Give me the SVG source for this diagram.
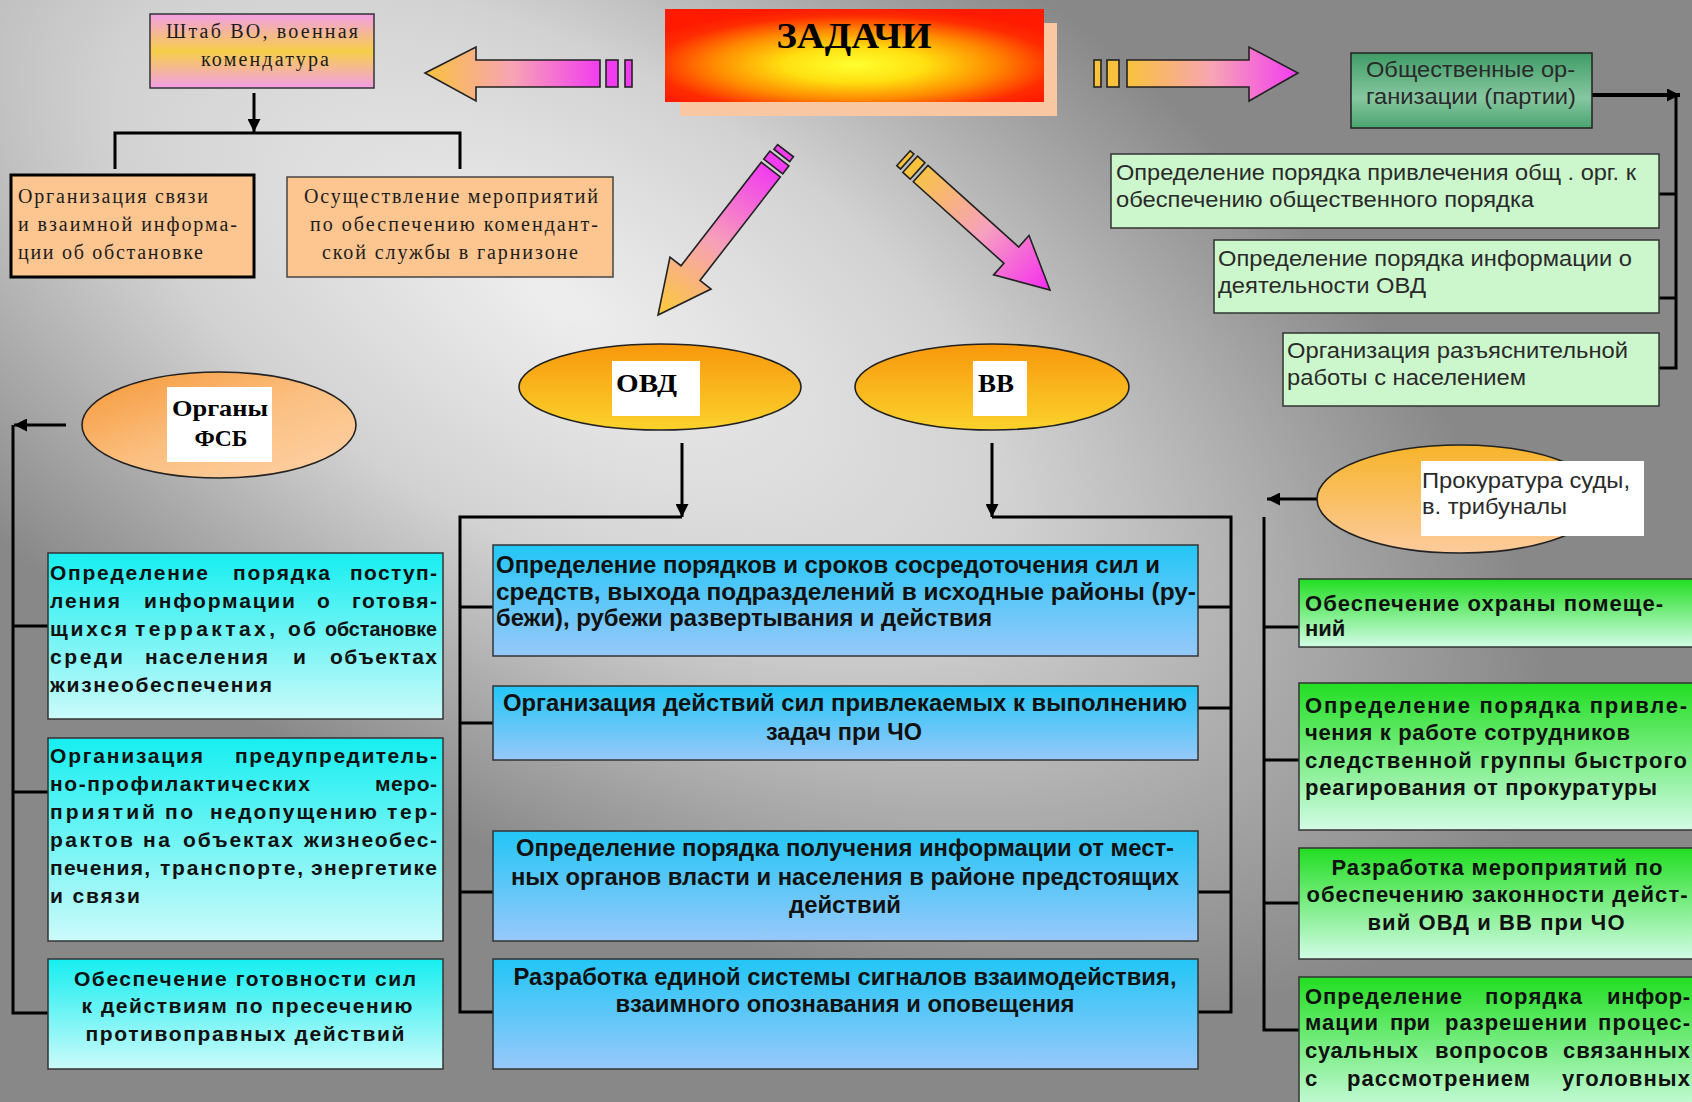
<svg xmlns="http://www.w3.org/2000/svg" width="1692" height="1102" viewBox="0 0 1692 1102">
<defs>
<style>
.ln{stroke:#000;stroke-width:3;fill:none}
.bx{stroke:#333;stroke-width:1.5}
.ol{stroke:#222;stroke-width:1.6}
.serif{font-family:"Liberation Serif","Times New Roman",serif;font-size:20px;fill:#1c1c1c}
.sb{font-family:"Liberation Serif","Times New Roman",serif;font-weight:bold;fill:#000}
.sans{font-family:"Liberation Sans",Arial,sans-serif;font-size:22px;fill:#2a2a2a}
.bl{font-family:"Liberation Sans",Arial,sans-serif;font-weight:bold;font-size:23px;fill:#111}
.cy{font-family:"Liberation Sans",Arial,sans-serif;font-weight:bold;font-size:21px;fill:#111}
.gr{font-family:"Liberation Sans",Arial,sans-serif;font-weight:bold;font-size:22px;fill:#111}
.c{text-anchor:middle}
</style>
<radialGradient id="bg" gradientUnits="userSpaceOnUse" cx="0" cy="0" r="1" gradientTransform="translate(560 300) rotate(30) scale(1100 520)">
<stop offset="0" stop-color="#eeeeee"/><stop offset="0.45" stop-color="#d2d2d2"/><stop offset="0.8" stop-color="#a2a2a2"/><stop offset="1" stop-color="#888888"/>
</radialGradient>
<linearGradient id="gShtab" x1="0" y1="0" x2="0" y2="1">
<stop offset="0" stop-color="#f29ee6"/><stop offset="0.5" stop-color="#f7cf4a"/><stop offset="1" stop-color="#f29ee6"/>
</linearGradient>
<radialGradient id="gRed" cx="0.5" cy="0.6" r="0.62">
<stop offset="0" stop-color="#ffff30"/><stop offset="0.3" stop-color="#ffe010"/><stop offset="0.6" stop-color="#ff8a00"/><stop offset="0.85" stop-color="#ff2c00"/><stop offset="1" stop-color="#ff1a00"/>
</radialGradient>
<linearGradient id="gArrL" gradientUnits="userSpaceOnUse" x1="424" y1="0" x2="600" y2="0">
<stop offset="0" stop-color="#f8c23c"/><stop offset="0.5" stop-color="#f7a4b4"/><stop offset="1" stop-color="#f23cf0"/>
</linearGradient>
<linearGradient id="gArrR" gradientUnits="userSpaceOnUse" x1="1127" y1="0" x2="1298" y2="0">
<stop offset="0" stop-color="#f8c23c"/><stop offset="0.5" stop-color="#f7a4b4"/><stop offset="1" stop-color="#f23cf0"/>
</linearGradient>
<linearGradient id="gDiagL" x1="0" y1="0" x2="1" y2="0">
<stop offset="0" stop-color="#f23cf0"/><stop offset="0.5" stop-color="#f7a0b8"/><stop offset="1" stop-color="#fbcb38"/>
</linearGradient>
<linearGradient id="gDiagR" x1="0" y1="0" x2="1" y2="0">
<stop offset="0" stop-color="#f8c248"/><stop offset="0.5" stop-color="#f7a0c0"/><stop offset="1" stop-color="#f42cf0"/>
</linearGradient>
<linearGradient id="gBlue" x1="0" y1="0" x2="0" y2="1">
<stop offset="0" stop-color="#22c6f6"/><stop offset="1" stop-color="#98c8fa"/>
</linearGradient>
<linearGradient id="gCyan" x1="0" y1="0" x2="0" y2="1">
<stop offset="0" stop-color="#16eef0"/><stop offset="1" stop-color="#ccfafa"/>
</linearGradient>
<linearGradient id="gGreen" x1="0" y1="0" x2="0" y2="1">
<stop offset="0" stop-color="#22de22"/><stop offset="1" stop-color="#d2fce6"/>
</linearGradient>
<linearGradient id="gDG" x1="0" y1="0" x2="0" y2="1">
<stop offset="0" stop-color="#3f9c66"/><stop offset="0.6" stop-color="#86c7a0"/><stop offset="1" stop-color="#4aa470"/>
</linearGradient>
<linearGradient id="gOr" x1="0" y1="0" x2="0" y2="1">
<stop offset="0" stop-color="#f8980c"/><stop offset="1" stop-color="#fbd22c"/>
</linearGradient>
<linearGradient id="gFsb" x1="0" y1="0" x2="1" y2="1">
<stop offset="0" stop-color="#f59634"/><stop offset="0.5" stop-color="#fbbf80"/><stop offset="1" stop-color="#fdd2a8"/>
</linearGradient>
<linearGradient id="gProk" x1="0" y1="0" x2="0" y2="1">
<stop offset="0" stop-color="#f7b42a"/><stop offset="1" stop-color="#fccb9c"/>
</linearGradient>
<marker id="ah" viewBox="0 0 10 10" refX="10" refY="5" markerUnits="userSpaceOnUse" markerWidth="15" markerHeight="13" orient="auto">
<path d="M0,0 L10,5 L0,10 Z" fill="#000"/>
</marker>
</defs>

<rect x="0" y="0" width="1692" height="1102" fill="url(#bg)"/>

<g id="connectors">
<path class="ln" d="M254,93 V132" marker-end="url(#ah)"/>
<path class="ln" d="M115,169 V133 H460 V169"/>
<path class="ln" d="M66,425 H14" marker-end="url(#ah)"/>
<path class="ln" d="M13,425 V1013 H48 M13,626 H48 M13,792 H48"/>
<path class="ln" d="M682,443 V517" marker-end="url(#ah)"/>
<path class="ln" d="M992,443 V517" marker-end="url(#ah)"/>
<path class="ln" d="M682,517 H460 V1012 H493 M460,607 H493 M460,723 H493 M460,892 H493"/>
<path class="ln" d="M992,517 H1231 V1012 H1198 M1231,607 H1198 M1231,708 H1198 M1231,892 H1198"/>
<path class="ln" style="stroke-width:4" d="M1592,95 H1680" marker-end="url(#ah)"/>
<path class="ln" d="M1676,95 V368 H1659 M1676,194 H1659 M1676,298 H1659"/>
<path class="ln" d="M1317,499 H1267" marker-end="url(#ah)"/>
<path class="ln" d="M1264,517 V1030 H1299 M1264,627 H1299 M1264,760 H1299 M1264,903 H1299"/>
</g>

<g id="arrows">
<g id="arrow-left">
<path d="M425,73 L476,47 L476,60 L600,60 L600,87 L476,87 L476,101 Z" fill="url(#gArrL)" class="ol"/>
<rect x="606" y="60" width="12" height="27" fill="#f23cf0" class="ol"/>
<rect x="625" y="60" width="7" height="27" fill="#f23cf0" class="ol"/>
</g>
<g id="arrow-right">
<rect x="1094" y="60" width="7" height="27" fill="#f8c23c" class="ol"/>
<rect x="1107" y="60" width="12" height="27" fill="#f8c23c" class="ol"/>
<path d="M1127,60 L1249,60 L1249,47 L1298,73 L1249,101 L1249,87 L1127,87 Z" fill="url(#gArrR)" class="ol"/>
</g>
<g id="arrow-diag-left" transform="translate(770.8 169.6) rotate(127.8)">
<path d="M0,-12 L131,-12 L131,-26 L184,0 L131,26 L131,12 L0,12 Z" fill="url(#gDiagL)" class="ol"/>
<rect x="-14" y="-12" width="10" height="24" fill="#f23cf0" class="ol"/>
<rect x="-24" y="-10" width="6" height="20" fill="#f23cf0" class="ol"/>
</g>
<g id="arrow-diag-right" transform="translate(920.6 173.6) rotate(41.97)">
<path d="M0,-11 L122,-11 L122,-26.5 L174,0 L122,26.5 L122,11 L0,11 Z" fill="url(#gDiagR)" class="ol"/>
<rect x="-14" y="-11" width="10" height="22" fill="#f8c23c" class="ol"/>
<rect x="-23" y="-10" width="5" height="20" fill="#f8c23c" class="ol"/>
</g>
</g>

<g id="zadachi">
<rect x="680" y="23" width="377" height="93" fill="#f9c8a2"/>
<rect x="665" y="9" width="379" height="93" fill="url(#gRed)"/>
<text class="sb c" x="854" y="48" font-size="35" textLength="155" lengthAdjust="spacingAndGlyphs">ЗАДАЧИ</text>
</g>

<g id="shtab">
<rect x="150" y="14" width="224" height="74" fill="url(#gShtab)" class="bx"/>
<text class="serif c" x="262" y="38" textLength="192" lengthAdjust="spacing">Штаб ВО, военная</text>
<text class="serif c" x="265" y="66" textLength="128" lengthAdjust="spacing">комендатура</text>
</g>

<g id="org-svyazi">
<rect x="11" y="175" width="243" height="102" fill="#fdc590" stroke="#000" stroke-width="3"/>
<text class="serif" x="18" y="203" textLength="190" lengthAdjust="spacing">Организация связи</text>
<text class="serif" x="18" y="231" textLength="219" lengthAdjust="spacing">и взаимной информа-</text>
<text class="serif" x="18" y="259" textLength="185" lengthAdjust="spacing">ции об обстановке</text>
</g>

<g id="osush">
<rect x="287" y="177" width="326" height="100" fill="#fdc590" stroke="#444" stroke-width="1.5"/>
<text class="serif c" x="451" y="203" textLength="294" lengthAdjust="spacing">Осуществление мероприятий</text>
<text class="serif c" x="454" y="231" textLength="288" lengthAdjust="spacing">по обеспечению комендант-</text>
<text class="serif c" x="450" y="259" textLength="256" lengthAdjust="spacing">ской службы в гарнизоне</text>
</g>

<g id="obshch">
<rect x="1351" y="53" width="241" height="75" fill="url(#gDG)" stroke="#222" stroke-width="1.5"/>
<text class="sans" x="1366" y="77" font-size="21" textLength="209" lengthAdjust="spacingAndGlyphs">Общественные ор-</text>
<text class="sans" x="1366" y="104" font-size="21" textLength="210" lengthAdjust="spacingAndGlyphs">ганизации (партии)</text>
</g>

<g id="obshch-1">
<rect x="1111" y="154" width="548" height="74" fill="#ccf7cc" class="bx"/>
<text class="sans" x="1116" y="180" textLength="520" lengthAdjust="spacingAndGlyphs">Определение порядка привлечения общ . орг. к</text>
<text class="sans" x="1116" y="207" textLength="418" lengthAdjust="spacingAndGlyphs">обеспечению общественного порядка</text>
</g>
<g id="obshch-2">
<rect x="1214" y="240" width="445" height="73" fill="#ccf7cc" class="bx"/>
<text class="sans" x="1218" y="266" textLength="414" lengthAdjust="spacingAndGlyphs">Определение порядка информации о</text>
<text class="sans" x="1218" y="293" textLength="208" lengthAdjust="spacingAndGlyphs">деятельности ОВД</text>
</g>
<g id="obshch-3">
<rect x="1283" y="333" width="376" height="73" fill="#ccf7cc" class="bx"/>
<text class="sans" x="1287" y="358" textLength="341" lengthAdjust="spacingAndGlyphs">Организация разъяснительной</text>
<text class="sans" x="1287" y="385" textLength="239" lengthAdjust="spacingAndGlyphs">работы с населением</text>
</g>

<g id="ovd">
<ellipse cx="660" cy="387" rx="141" ry="43" fill="url(#gOr)" class="ol"/>
<rect x="612" y="361" width="88" height="55" fill="#fff"/>
<text class="sb" x="616" y="392" font-size="25" textLength="61" lengthAdjust="spacingAndGlyphs">ОВД</text>
</g>
<g id="vv">
<ellipse cx="992" cy="387" rx="137" ry="43" fill="url(#gOr)" class="ol"/>
<rect x="973" y="361" width="54" height="55" fill="#fff"/>
<text class="sb" x="978" y="392" font-size="25" textLength="36" lengthAdjust="spacingAndGlyphs">ВВ</text>
</g>
<g id="fsb">
<ellipse cx="219" cy="425" rx="137" ry="53" fill="url(#gFsb)" class="ol"/>
<rect x="167" y="387" width="105" height="75" fill="#fff"/>
<text class="sb c" x="220" y="416" font-size="23" textLength="96" lengthAdjust="spacingAndGlyphs">Органы</text>
<text class="sb c" x="221" y="446" font-size="23" textLength="53" lengthAdjust="spacingAndGlyphs">ФСБ</text>
</g>
<g id="prok">
<ellipse cx="1460" cy="499" rx="143" ry="54" fill="url(#gProk)" class="ol"/>
<rect x="1421" y="461" width="223" height="75" fill="#fff"/>
<text class="sans" x="1422" y="488" font-size="21" textLength="208" lengthAdjust="spacingAndGlyphs">Прокуратура суды,</text>
<text class="sans" x="1422" y="514" font-size="21" textLength="145" lengthAdjust="spacingAndGlyphs">в. трибуналы</text>
</g>

<g id="blue-1">
<rect x="493" y="545" width="705" height="111" fill="url(#gBlue)" class="bx"/>
<text class="bl" x="496" y="573" textLength="664" lengthAdjust="spacingAndGlyphs">Определение порядков и сроков сосредоточения сил и</text>
<text class="bl" x="496" y="600" textLength="700" lengthAdjust="spacingAndGlyphs">средств, выхода подразделений в исходные районы (ру-</text>
<text class="bl" x="496" y="626" textLength="496" lengthAdjust="spacingAndGlyphs">бежи), рубежи развертывания и действия</text>
</g>
<g id="blue-2">
<rect x="493" y="686" width="705" height="74" fill="url(#gBlue)" class="bx"/>
<text class="bl c" x="845" y="711" textLength="684" lengthAdjust="spacingAndGlyphs">Организация действий сил привлекаемых к выполнению</text>
<text class="bl c" x="844" y="740" textLength="156" lengthAdjust="spacingAndGlyphs">задач при ЧО</text>
</g>
<g id="blue-3">
<rect x="493" y="831" width="705" height="110" fill="url(#gBlue)" class="bx"/>
<text class="bl c" x="845" y="856" textLength="658" lengthAdjust="spacingAndGlyphs">Определение порядка получения информации от мест-</text>
<text class="bl c" x="845" y="885" textLength="668" lengthAdjust="spacingAndGlyphs">ных органов власти и населения в районе предстоящих</text>
<text class="bl c" x="845" y="913" textLength="112" lengthAdjust="spacingAndGlyphs">действий</text>
</g>
<g id="blue-4">
<rect x="493" y="959" width="705" height="110" fill="url(#gBlue)" class="bx"/>
<text class="bl c" x="845" y="985" textLength="663" lengthAdjust="spacingAndGlyphs">Разработка единой системы сигналов взаимодействия,</text>
<text class="bl c" x="845" y="1012" textLength="459" lengthAdjust="spacingAndGlyphs">взаимного опознавания и оповещения</text>
</g>

<g id="cyan-1">
<rect x="48" y="553" width="395" height="166" fill="url(#gCyan)" class="bx"/>
<text class="cy" x="50" y="580" textLength="158" lengthAdjust="spacing">Определение</text>
<text class="cy" x="233" y="580" textLength="97" lengthAdjust="spacing">порядка</text>
<text class="cy" x="350" y="580" textLength="87" lengthAdjust="spacing">поступ-</text>
<text class="cy" x="50" y="608" textLength="70" lengthAdjust="spacing">ления</text>
<text class="cy" x="144" y="608" textLength="151" lengthAdjust="spacing">информации</text>
<text class="cy" x="317" y="608">о</text>
<text class="cy" x="352" y="608" textLength="85" lengthAdjust="spacing">готовя-</text>
<text class="cy" x="50" y="636" textLength="77" lengthAdjust="spacing">щихся</text>
<text class="cy" x="135" y="636" textLength="140" lengthAdjust="spacing">террактах,</text>
<text class="cy" x="288" y="636" textLength="28" lengthAdjust="spacing">об</text>
<text class="cy" x="325" y="636" textLength="112" lengthAdjust="spacingAndGlyphs">обстановке</text>
<text class="cy" x="50" y="664" textLength="73" lengthAdjust="spacing">среди</text>
<text class="cy" x="145" y="664" textLength="123" lengthAdjust="spacing">населения</text>
<text class="cy" x="293" y="664">и</text>
<text class="cy" x="330" y="664" textLength="107" lengthAdjust="spacing">объектах</text>
<text class="cy" x="50" y="692" textLength="222" lengthAdjust="spacing">жизнеобеспечения</text>
</g>
<g id="cyan-2">
<rect x="48" y="738" width="395" height="203" fill="url(#gCyan)" class="bx"/>
<text class="cy" x="50" y="763" textLength="153" lengthAdjust="spacing">Организация</text>
<text class="cy" x="235" y="763" textLength="202" lengthAdjust="spacing">предупредитель-</text>
<text class="cy" x="50" y="791" textLength="260" lengthAdjust="spacing">но-профилактических</text>
<text class="cy" x="375" y="791" textLength="62" lengthAdjust="spacing">меро-</text>
<text class="cy" x="50" y="819" textLength="105" lengthAdjust="spacing">приятий</text>
<text class="cy" x="165" y="819" textLength="28" lengthAdjust="spacing">по</text>
<text class="cy" x="210" y="819" textLength="167" lengthAdjust="spacing">недопущению</text>
<text class="cy" x="387" y="819" textLength="50" lengthAdjust="spacing">тер-</text>
<text class="cy" x="50" y="847" textLength="83" lengthAdjust="spacing">рактов</text>
<text class="cy" x="143" y="847" textLength="27" lengthAdjust="spacing">на</text>
<text class="cy" x="183" y="847" textLength="110" lengthAdjust="spacing">объектах</text>
<text class="cy" x="304" y="847" textLength="133" lengthAdjust="spacing">жизнеобес-</text>
<text class="cy" x="50" y="875" textLength="100" lengthAdjust="spacing">печения,</text>
<text class="cy" x="160" y="875" textLength="143" lengthAdjust="spacing">транспорте,</text>
<text class="cy" x="311" y="875" textLength="126" lengthAdjust="spacing">энергетике</text>
<text class="cy" x="50" y="903" textLength="90" lengthAdjust="spacing">и связи</text>
</g>
<g id="cyan-3">
<rect x="48" y="959" width="395" height="110" fill="url(#gCyan)" class="bx"/>
<text class="cy c" x="245" y="986" textLength="342" lengthAdjust="spacing">Обеспечение готовности сил</text>
<text class="cy c" x="247" y="1013" textLength="331" lengthAdjust="spacing">к действиям по пресечению</text>
<text class="cy c" x="245" y="1041" textLength="319" lengthAdjust="spacing">противоправных действий</text>
</g>

<g id="green-1">
<rect x="1299" y="579" width="400" height="68" fill="url(#gGreen)" class="bx"/>
<text class="gr" x="1305" y="611" textLength="358" lengthAdjust="spacing">Обеспечение охраны помеще-</text>
<text class="gr" x="1305" y="636">ний</text>
</g>
<g id="green-2">
<rect x="1299" y="683" width="400" height="147" fill="url(#gGreen)" class="bx"/>
<text class="gr" x="1305" y="713" textLength="382" lengthAdjust="spacing">Определение порядка привле-</text>
<text class="gr" x="1305" y="740" textLength="325" lengthAdjust="spacing">чения к работе сотрудников</text>
<text class="gr" x="1305" y="768" textLength="382" lengthAdjust="spacing">следственной группы быстрого</text>
<text class="gr" x="1305" y="795" textLength="352" lengthAdjust="spacing">реагирования от прокуратуры</text>
</g>
<g id="green-3">
<rect x="1299" y="848" width="400" height="111" fill="url(#gGreen)" class="bx"/>
<text class="gr c" x="1497" y="875" textLength="331" lengthAdjust="spacing">Разработка мероприятий по</text>
<text class="gr c" x="1497" y="902" textLength="381" lengthAdjust="spacing">обеспечению законности дейст-</text>
<text class="gr c" x="1496" y="930" textLength="257" lengthAdjust="spacing">вий ОВД и ВВ при ЧО</text>
</g>
<g id="green-4">
<rect x="1299" y="977" width="400" height="140" fill="url(#gGreen)" class="bx"/>
<text class="gr" x="1305" y="1004" textLength="157" lengthAdjust="spacing">Определение</text>
<text class="gr" x="1485" y="1004" textLength="97" lengthAdjust="spacing">порядка</text>
<text class="gr" x="1607" y="1004" textLength="83" lengthAdjust="spacing">инфор-</text>
<text class="gr" x="1305" y="1030" textLength="73" lengthAdjust="spacing">мации</text>
<text class="gr" x="1390" y="1030" textLength="40" lengthAdjust="spacing">при</text>
<text class="gr" x="1445" y="1030" textLength="142" lengthAdjust="spacing">разрешении</text>
<text class="gr" x="1598" y="1030" textLength="92" lengthAdjust="spacing">процес-</text>
<text class="gr" x="1305" y="1058" textLength="113" lengthAdjust="spacing">суальных</text>
<text class="gr" x="1435" y="1058" textLength="113" lengthAdjust="spacing">вопросов</text>
<text class="gr" x="1563" y="1058" textLength="127" lengthAdjust="spacing">связанных</text>
<text class="gr" x="1305" y="1086">с</text>
<text class="gr" x="1347" y="1086" textLength="183" lengthAdjust="spacing">рассмотрением</text>
<text class="gr" x="1562" y="1086" textLength="128" lengthAdjust="spacing">уголовных</text>
</g>
</svg>
